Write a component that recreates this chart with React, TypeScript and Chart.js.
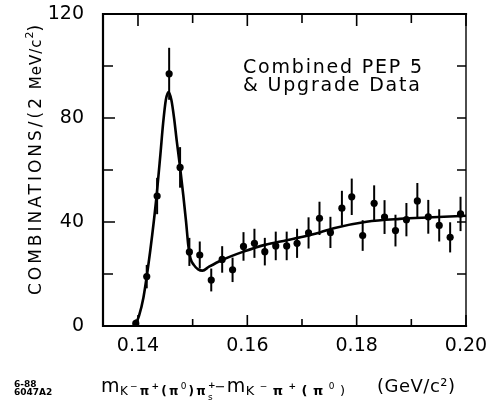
import React, { useEffect, useRef } from "react";
import { Chart, registerables } from "chart.js";

Chart.register(...registerables);

// Mass difference bins (GeV/c^2) and counts
const massDiff = [
  0.1396, 0.1416, 0.1435, 0.1457, 0.1477, 0.1494, 0.1513, 0.1534, 0.1554, 0.1573,
  0.1593, 0.1613, 0.1632, 0.1652, 0.1672, 0.1691, 0.1712, 0.1732, 0.1752, 0.1773,
  0.1791, 0.1811, 0.1832, 0.1851, 0.1871, 0.1891, 0.1911, 0.1931, 0.1951, 0.1971,
  0.199,
];
const combos = [
  1, 19, 50, 97, 61, 28.5, 27.3, 17.7, 25.6, 21.6,
  30.6, 31.8, 28.6, 30.8, 30.8, 31.8, 35.8, 41.4, 36, 45.3,
  49.7, 34.8, 47.2, 41.9, 36.7, 40.9, 48.1, 42, 38.7, 34.1,
  43.1,
];
const errors = [
  1.5, 4.5, 7, 10, 7.8, 5.4, 5.2, 4.4, 5.1, 4.7,
  5.5, 5.6, 5.3, 5.5, 5.5, 5.6, 6, 6.4, 6, 6.7,
  7, 5.9, 6.9, 6.5, 6.1, 6.4, 6.9, 6.5, 6.2, 5.8,
  6.6,
];

// Fitted curve
const fitX = [
  0.1394, 0.1402, 0.141, 0.1418, 0.1426, 0.1434, 0.1441, 0.1446, 0.1451, 0.1456,
  0.1461, 0.1466, 0.1471, 0.1477, 0.1483, 0.1488, 0.1492, 0.1496, 0.1502, 0.151,
  0.1518, 0.153, 0.1554, 0.1593, 0.1632, 0.1672, 0.1711, 0.1733, 0.1758, 0.1818,
  0.1879, 0.1939, 0.2,
];
const fitY = [
  0, 4, 11, 22, 35, 50, 66, 78, 87, 90,
  87, 80, 71, 61, 50, 40, 31, 26, 23.5, 21.8,
  21.3, 22.8, 25.4, 28.6, 31.2, 33, 34.8, 36, 37.6, 40.1,
  41.2, 41.8, 42.4,
];

const xTicks = [0.14, 0.16, 0.18, 0.2];
const xMinorTicks = [0.15, 0.17, 0.19];
const yTicks = [0, 40, 80, 120];
const yMinorTicks = [20, 60, 100];
const X_MIN = 0.1336;
const X_MAX = 0.2;
const Y_MIN = 0;
const Y_MAX = 120;

const legendLines = ["Combined PEP 5", "& Upgrade Data"];
const figureCode = ["6-88", "6047A2"];
const unitLabel = "(GeV/c²)";

const FONT = "'DejaVu Sans', sans-serif";

type Seg = { t: string; size: number; dy?: number; stack?: boolean; weight?: string; ls?: number };

function segWidth(ctx: CanvasRenderingContext2D, s: Seg) {
  ctx.font = `${s.weight || "normal"} ${s.size}px ${FONT}`;
  (ctx as any).letterSpacing = `${s.ls || 0}px`;
  return ctx.measureText(s.t).width;
}

function drawRich(ctx: CanvasRenderingContext2D, segs: Seg[], x: number, y: number, align: "left" | "center") {
  let total = 0;
  for (const s of segs) if (!s.stack) total += segWidth(ctx, s);
  let cx = align === "center" ? x - total / 2 : x;
  ctx.textAlign = "left";
  ctx.textBaseline = "alphabetic";
  for (const s of segs) {
    const w = segWidth(ctx, s);
    ctx.fillText(s.t, cx, y + (s.dy || 0));
    if (!s.stack) cx += w;
  }
  (ctx as any).letterSpacing = "0px";
}

const yTitleSegs: Seg[] = [
  { t: "COMBINATIONS/(2", size: 17, ls: 3 },
  { t: " MeV/c", size: 15, ls: 1 },
  { t: "2", size: 11, dy: -8 },
  { t: ")", size: 17 },
];

const sub = 12;
const sup = 9;
const ls1 = 2.2;
const ls2 = 5.5;
const xTitleSegs: Seg[] = [
  { t: "m", size: 19, ls: 0.5 },
  { t: "K", size: sub, dy: 3, ls: ls1 },
  { t: "−", size: sup, dy: -3, ls: ls1 },
  { t: "π", size: sub, dy: 3, weight: "bold", ls: ls1 },
  { t: "+", size: sup, dy: -3, weight: "bold", ls: ls1 },
  { t: "(π", size: sub, dy: 3, weight: "bold", ls: ls1 },
  { t: "0", size: sup, dy: -3, ls: ls1 },
  { t: ")π", size: sub, dy: 3, weight: "bold", ls: ls1 },
  { t: "+", size: sup, dy: -4, stack: true, weight: "bold" },
  { t: "s", size: sup, dy: 8, ls: ls1 },
  { t: "−", size: 13, dy: -1, ls: 1 },
  { t: "m", size: 19, ls: 0.5 },
  { t: "K", size: 13, dy: 3, ls: ls2 },
  { t: "−", size: sup, dy: -3, ls: ls2 },
  { t: "π", size: 13, dy: 3, weight: "bold", ls: ls2 },
  { t: "+", size: sup, dy: -3, weight: "bold", ls: ls2 },
  { t: "(π", size: 13, dy: 3, weight: "bold", ls: ls2 },
  { t: "0", size: sup, dy: -3, ls: ls2 },
  { t: ")", size: 13, dy: 3 },
];

const decorPlugin = {
  id: "decor",
  afterDatasetsDraw(chart: any) {
    const { ctx, chartArea, scales } = chart;
    const { left, right, top, bottom } = chartArea;
    const x = scales.x;
    const y = scales.y;
    ctx.save();
    ctx.beginPath();
    ctx.rect(left, top, right - left, bottom - top);
    ctx.clip();
    ctx.strokeStyle = "#000";
    ctx.lineWidth = 2;
    for (let i = 0; i < massDiff.length; i++) {
      const px = x.getPixelForValue(massDiff[i]);
      const y1 = y.getPixelForValue(Math.max(0, combos[i] - errors[i]));
      const y2 = y.getPixelForValue(combos[i] + errors[i]);
      ctx.beginPath();
      ctx.moveTo(px, y1);
      ctx.lineTo(px, y2);
      ctx.stroke();
    }
    ctx.restore();
  },
  afterDraw(chart: any) {
    const { ctx, chartArea, scales } = chart;
    const { left, right, top, bottom } = chartArea;
    const x = scales.x;
    const y = scales.y;
    ctx.save();
    ctx.strokeStyle = "#000";
    ctx.lineCap = "square";
    ctx.lineWidth = 2.2;
    ctx.beginPath();
    ctx.moveTo(left, top);
    ctx.lineTo(right, top);
    ctx.moveTo(left, top);
    ctx.lineTo(left, bottom);
    ctx.lineTo(right, bottom);
    ctx.stroke();
    ctx.lineWidth = 1.4;
    ctx.beginPath();
    ctx.moveTo(right, top);
    ctx.lineTo(right, bottom);
    ctx.stroke();

    ctx.lineWidth = 1.6;
    ctx.lineCap = "butt";
    ctx.beginPath();
    for (const v of xTicks) {
      const px = x.getPixelForValue(v);
      ctx.moveTo(px, bottom);
      ctx.lineTo(px, bottom - 11);
      ctx.moveTo(px, top);
      ctx.lineTo(px, top + 12);
    }
    for (const v of xMinorTicks) {
      const px = x.getPixelForValue(v);
      ctx.moveTo(px, bottom);
      ctx.lineTo(px, bottom - 7);
      ctx.moveTo(px, top);
      ctx.lineTo(px, top + 9);
    }
    for (const v of yTicks) {
      const py = y.getPixelForValue(v);
      ctx.moveTo(left, py);
      ctx.lineTo(left + 12, py);
      ctx.moveTo(right, py);
      ctx.lineTo(right - 9, py);
    }
    for (const v of yMinorTicks) {
      const py = y.getPixelForValue(v);
      ctx.moveTo(left, py);
      ctx.lineTo(left + 10, py);
      ctx.moveTo(right, py);
      ctx.lineTo(right - 9, py);
    }
    ctx.stroke();

    ctx.fillStyle = "#000";
    ctx.font = `19px ${FONT}`;
    (ctx as any).letterSpacing = "1.8px";
    ctx.textAlign = "left";
    ctx.textBaseline = "alphabetic";
    ctx.fillText(legendLines[0], left + 140, top + 59);
    ctx.fillText(legendLines[1], left + 140, top + 77);
    (ctx as any).letterSpacing = "0px";

    ctx.save();
    ctx.translate(35, (top + bottom) / 2 - 10);
    ctx.rotate(-Math.PI / 2);
    drawRich(ctx, yTitleSegs, 0, 6, "center");
    ctx.restore();

    drawRich(ctx, xTitleSegs, left - 2, bottom + 66, "left");
    ctx.font = `18px ${FONT}`;
    (ctx as any).letterSpacing = "0.5px";
    ctx.fillText(unitLabel, left + 274, bottom + 66);
    (ctx as any).letterSpacing = "0px";

    ctx.font = `bold 9px ${FONT}`;
    ctx.fillText(figureCode[0], 14, bottom + 61);
    ctx.fillText(figureCode[1], 14, bottom + 69);
    ctx.restore();
  },
};

export default function App() {
  const ref = useRef<HTMLCanvasElement | null>(null);
  useEffect(() => {
    if (!ref.current) return;
    const points = massDiff.map((m, i) => ({ x: m, y: combos[i] }));
    const fit = fitX.map((m, i) => ({ x: m, y: fitY[i] }));
    const chart = new Chart(ref.current, {
      type: "scatter",
      data: {
        datasets: [
          {
            label: "fit",
            data: fit,
            showLine: true,
            borderColor: "#000",
            borderWidth: 2.6,
            pointRadius: 0,
            cubicInterpolationMode: "monotone",
            order: 2,
          } as any,
          {
            label: "data",
            data: points,
            backgroundColor: "#000",
            borderColor: "#000",
            pointRadius: 3.6,
            pointBorderWidth: 0,
            order: 1,
          },
        ],
      },
      options: {
        animation: false,
        responsive: false,
        layout: { padding: { left: 8, top: 14, right: 23, bottom: 0 } },
        plugins: {
          legend: { display: false },
          tooltip: { enabled: false },
        },
        scales: {
          x: {
            type: "linear",
            min: X_MIN,
            max: X_MAX,
            grid: { display: false, drawTicks: false },
            border: { display: false },
            afterBuildTicks: (s: any) => {
              s.ticks = xTicks.map((v) => ({ value: v }));
            },
            afterFit: (s: any) => {
              s.height = 79;
              s.paddingLeft = 0;
              s.paddingRight = 0;
            },
            ticks: {
              padding: 9,
              color: "#000",
              font: { family: FONT, size: 19 },
              maxRotation: 0,
              callback: (v: any) => Number(v).toFixed(2),
            },
          },
          y: {
            type: "linear",
            min: Y_MIN,
            max: Y_MAX,
            grid: { display: false, drawTicks: false },
            border: { display: false },
            afterBuildTicks: (s: any) => {
              s.ticks = yTicks.map((v) => ({ value: v }));
            },
            afterFit: (s: any) => {
              s.width = 95;
              s.paddingTop = 0;
              s.paddingBottom = 0;
            },
            ticks: {
              padding: 19,
              color: "#000",
              font: { family: FONT, size: 19 },
              callback: (v: any) => String(v),
            },
          },
        },
      },
      plugins: [decorPlugin],
    });
    return () => chart.destroy();
  }, []);
  return (
    <div style={{ position: "absolute", left: 0, top: 0, width: 489, height: 405, background: "#fff" }}>
      <canvas ref={ref} width={489} height={405} style={{ display: "block" }} />
    </div>
  );
}
